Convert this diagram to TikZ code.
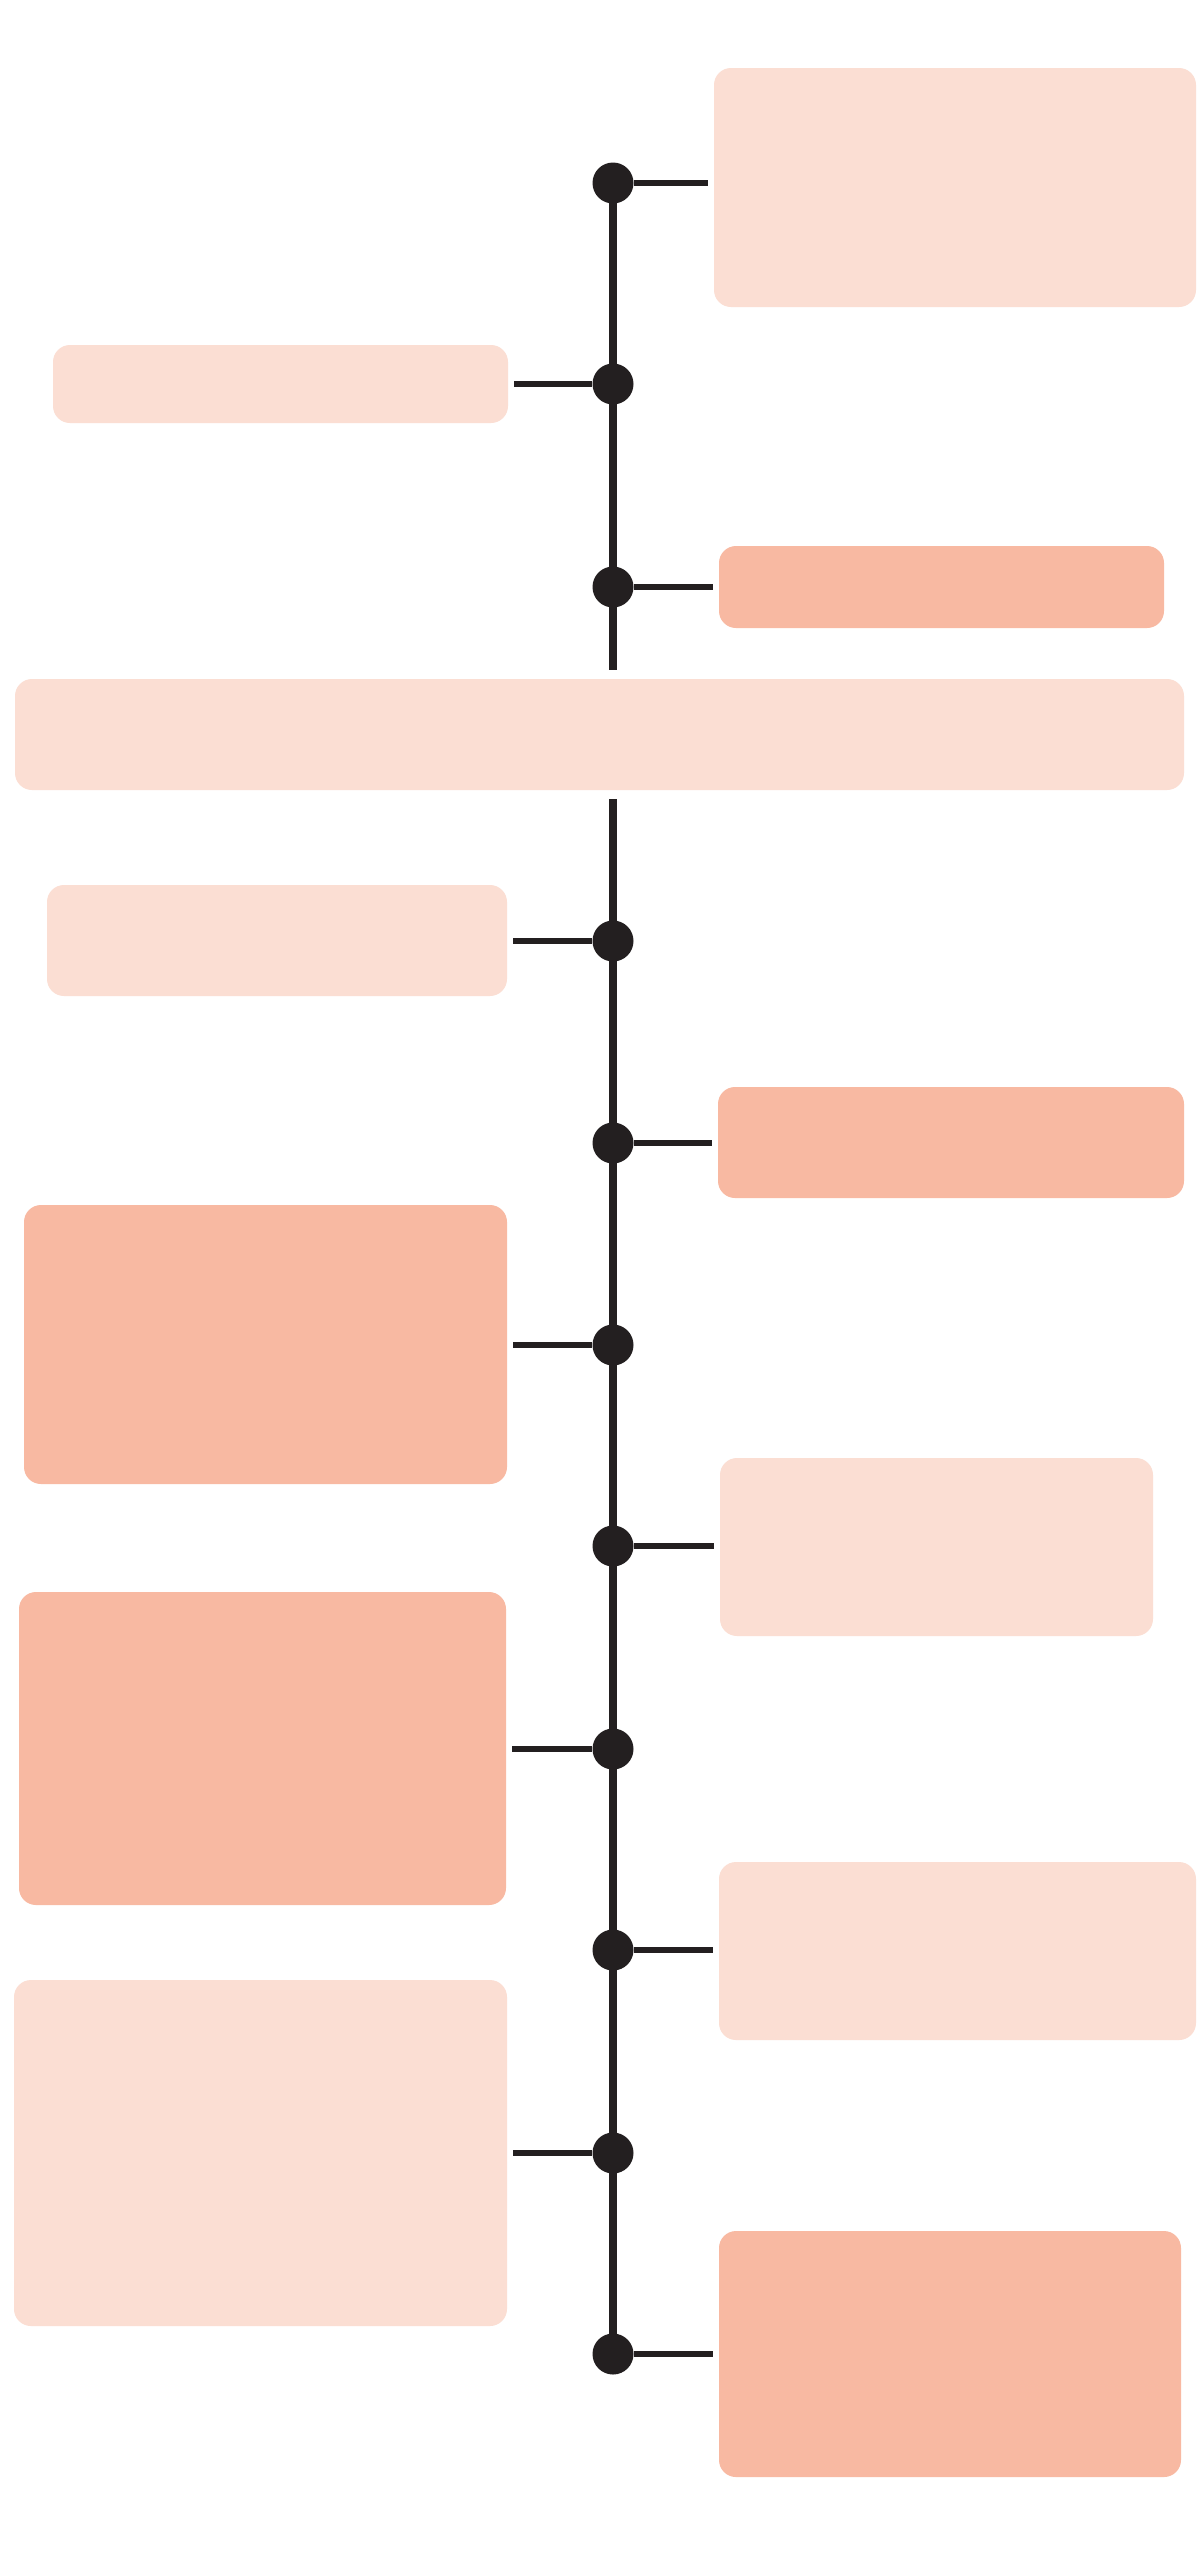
\documentclass[tikz,border=0pt]{standalone}
\usetikzlibrary{fit}
\definecolor{lightpeach}{HTML}{FBDED3}
\definecolor{darkpeach}{HTML}{F8B9A2}
\definecolor{ink}{HTML}{231F20}
\begin{document}
\begin{tikzpicture}[x=0.5pt,y=-0.5pt,
  card/.style={inner sep=0pt, rounded corners=8.5pt, draw=none},
  lightcard/.style={card, fill=lightpeach},
  darkcard/.style={card, fill=darkpeach},
  dot/.style={circle, fill=ink, inner sep=0pt, minimum size=20.5pt},
  spine/.style={draw=ink, line width=3.7pt},
  stub/.style={draw=ink, line width=3pt, shorten >=2.8pt}]
\fill[white] (0,0) rectangle (1200,2554);
\useasboundingbox (0,0) rectangle (1200,2554);
% cards
\node[lightcard, fit={(714,68) (1196,307)}] (b1) {};
\node[lightcard, fit={(53,345) (508,423)}] (b2) {};
\node[darkcard, fit={(719,546) (1164,628)}] (b3) {};
\node[lightcard, fit={(15,679) (1184,790)}] (bw) {};
\node[lightcard, fit={(47,885) (507,996)}] (b4) {};
\node[darkcard, fit={(718,1087) (1184,1198)}] (b5) {};
\node[darkcard, fit={(24,1205) (507,1484)}] (b6) {};
\node[lightcard, fit={(720,1458) (1153,1636)}] (b7) {};
\node[darkcard, fit={(19,1592) (506,1905)}] (b8) {};
\node[lightcard, fit={(719,1862) (1196,2040)}] (b9) {};
\node[lightcard, fit={(14,1980) (507,2326)}] (b10) {};
\node[darkcard, fit={(719,2231) (1181,2477)}] (b11) {};
% spine
\coordinate (s1) at (613,183);
\coordinate (gapTop) at (613,670);
\coordinate (gapBot) at (613,799);
\coordinate (s11) at (613,2354);
\draw[spine] (s1) -- (gapTop);
\draw[spine] (gapBot) -- (s11);
% dots
\node[dot] (d1) at (613,183) {};
\node[dot] (d2) at (613,384) {};
\node[dot] (d3) at (613,587) {};
\node[dot] (d4) at (613,941) {};
\node[dot] (d5) at (613,1143) {};
\node[dot] (d6) at (613,1345) {};
\node[dot] (d7) at (613,1546) {};
\node[dot] (d8) at (613,1749) {};
\node[dot] (d9) at (613,1950) {};
\node[dot] (d10) at (613,2153) {};
\node[dot] (d11) at (613,2354) {};
% stubs
\foreach \d/\b in {d1/b1,d3/b3,d5/b5,d7/b7,d9/b9,d11/b11}
  \draw[stub] (\d.east) -- (\d -| \b.west);
\foreach \d/\b in {d2/b2,d4/b4,d6/b6,d8/b8,d10/b10}
  \draw[stub] (\d.west) -- (\d -| \b.east);
\end{tikzpicture}
\end{document}
